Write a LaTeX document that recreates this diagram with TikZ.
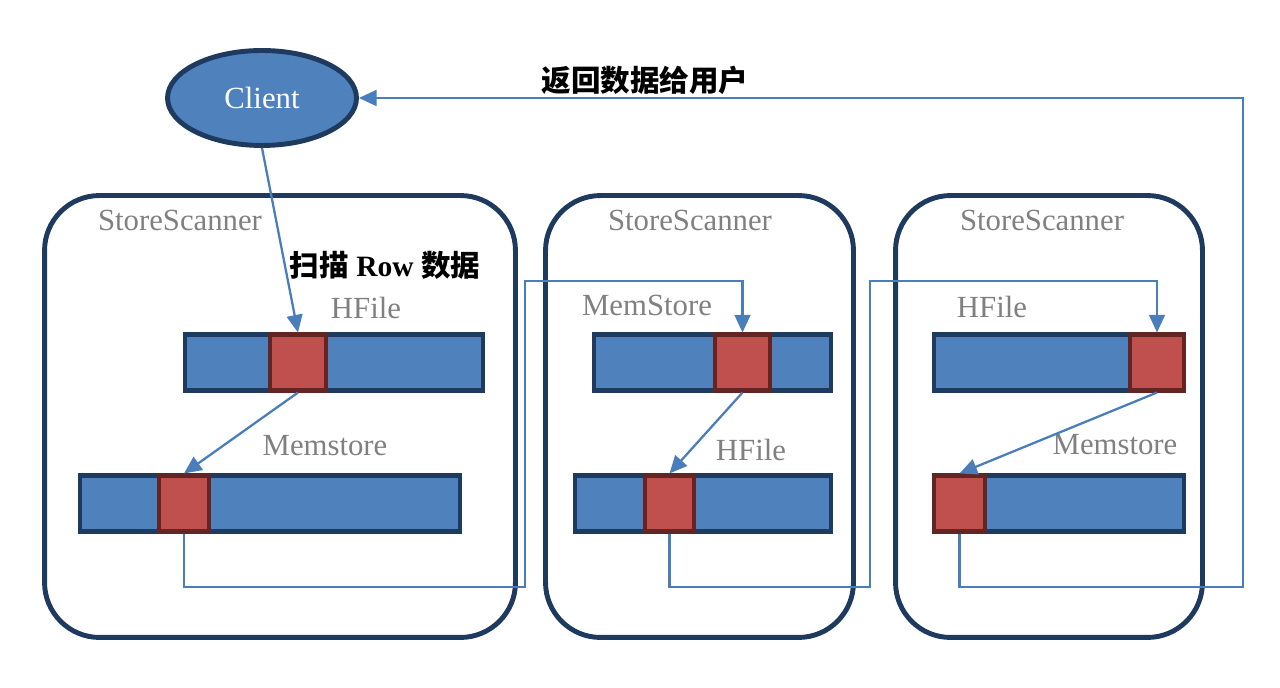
\documentclass[tikz,border=0pt]{standalone}
\usepackage{fontspec}
\setmainfont{Liberation Serif}
\newfontfamily\cjk{Noto Sans CJK SC}
\usetikzlibrary{shapes.geometric,arrows.meta}
\definecolor{cellblue}{HTML}{4F81BD}
\definecolor{navy}{HTML}{1F3A5F}
\definecolor{cellred}{HTML}{C0504D}
\definecolor{darkred}{HTML}{632523}
\definecolor{flowblue}{HTML}{4A7EBB}
\definecolor{labelgray}{HTML}{808080}

\begin{document}
\begin{tikzpicture}[x=0.02cm, y=-0.02cm,
    scanbox/.style={draw=navy, line width=2.8pt, rounded corners=1.1cm,
                    minimum height=8.84cm, inner sep=0pt},
    bar/.style={draw=navy, fill=cellblue, line width=2.3pt,
                minimum height=1.12cm, inner sep=0pt},
    cell/.style={draw=darkred, fill=cellred, line width=2.3pt,
                 minimum height=1.12cm, inner sep=0pt},
    lbl/.style={text=labelgray, font=\fontsize{17.5}{20}\selectfont},
    flow/.style={draw=flowblue, line width=1.3pt,
                 -{Triangle[width=9pt,length=10pt]}},
  ]
  \useasboundingbox (0,0) rectangle (1280,688);

  % client and titles
  \node[ellipse, draw=navy, fill=cellblue, line width=2.8pt,
        minimum width=3.78cm, minimum height=1.9cm, inner sep=0pt,
        text=white, font=\fontsize{17.5}{20}\selectfont] (client) at (262,98) {Client};
  \node[font=\cjk\bfseries\fontsize{16.8}{20}\selectfont] (ret) at (645,80) {返回数据给用户};
  \node[font=\fontsize{16.8}{20}\selectfont] (scan) at (385,265)
    {{\cjk\bfseries 扫描} \textbf{Row} {\cjk\bfseries 数据}};

  % three scanners
  \node[scanbox, minimum width=9.42cm] (ss1) at (280,416.5) {};
  \node[scanbox, minimum width=6.16cm] (ss2) at (699.5,416.5) {};
  \node[scanbox, minimum width=6.14cm] (ss3) at (1049,416.5) {};
  \node[lbl] (ssl1) at (180,220) {StoreScanner};
  \node[lbl] (ssl2) at (690,220) {StoreScanner};
  \node[lbl] (ssl3) at (1042,220) {StoreScanner};

  % scanner 1
  \node[bar, minimum width=5.96cm] (hf1) at (334,362.5) {};
  \node[cell, minimum width=1.12cm] (hc1) at (298,362.5) {};
  \node[bar, minimum width=7.6cm] (ms1) at (270,503.5) {};
  \node[cell, minimum width=1.0cm] (mc1) at (184,503.5) {};
  \node[lbl] (hl1) at (366,308) {HFile};
  \node[lbl] (ml1) at (325,446) {Memstore};

  % scanner 2
  \node[bar, minimum width=4.74cm] (ms2) at (712.5,362.5) {};
  \node[cell, minimum width=1.1cm] (mc2) at (742.5,362.5) {};
  \node[bar, minimum width=5.12cm] (hf2) at (703,503.5) {};
  \node[cell, minimum width=0.98cm] (hc2) at (669.5,503.5) {};
  \node[lbl] (ml2) at (647,305) {MemStore};
  \node[lbl] (hl2) at (751,450) {HFile};

  % scanner 3
  \node[bar, minimum width=5.0cm] (hf3) at (1059,362.5) {};
  \node[cell, minimum width=1.08cm] (hc3) at (1157,362.5) {};
  \node[bar, minimum width=5.0cm] (ms3) at (1059,503.5) {};
  \node[cell, minimum width=1.02cm] (mc3) at (959.5,503.5) {};
  \node[lbl] (hl3) at (992,307) {HFile};
  \node[lbl] (ml3) at (1115,445) {Memstore};

  % routing points
  \coordinate (b1) at (525,587);
  \coordinate (t1) at (525,281);
  \coordinate (b2) at (870,587);
  \coordinate (t2) at (870,281);
  \coordinate (b3) at (1243,587);

  \draw[flow] (client.south) -- (hc1.north);
  \draw[flow] (hc1.south) -- (mc1.north);
  \draw[flow] (mc1.south) |- (b1) -- (t1) -| (mc2.north);
  \draw[flow] (mc2.south) -- (hc2.north);
  \draw[flow] (hc2.south) |- (b2) -- (t2) -| (hc3.north);
  \draw[flow] (hc3.south) -- (mc3.north);
  \draw[flow] (mc3.south) |- (b3) |- (client.east);
\end{tikzpicture}
\end{document}
